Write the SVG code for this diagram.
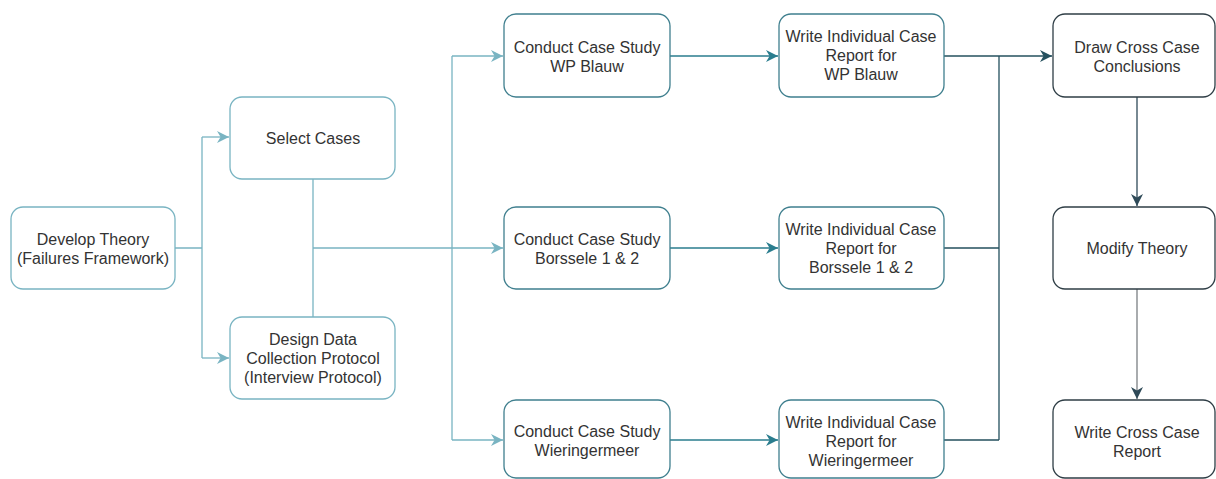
<svg xmlns="http://www.w3.org/2000/svg" width="1216" height="479" viewBox="0 0 1216 479">
<style>
.n{fill:#fff;stroke-width:1.3}
.l{stroke:#79b4c2}
.m{stroke:#3f7f8e}
.d{stroke:#2f3e46}
text{font-family:"Liberation Sans",Arial,sans-serif;font-size:16px;fill:#333;text-anchor:middle}
.c{fill:none;stroke-width:1.3}
</style>
<defs>
<marker id="al" markerUnits="userSpaceOnUse" markerWidth="12" markerHeight="12" refX="10" refY="5" orient="auto" viewBox="0 0 10 10"><path d="M0,0 L10,5 L0,10 L3,5 z" fill="#79b4c2"/></marker>
<marker id="am" markerUnits="userSpaceOnUse" markerWidth="12" markerHeight="12" refX="10" refY="5" orient="auto" viewBox="0 0 10 10"><path d="M0,0 L10,5 L0,10 L3,5 z" fill="#2a7d8e"/></marker>
<marker id="ad" markerUnits="userSpaceOnUse" markerWidth="12" markerHeight="12" refX="10" refY="5" orient="auto" viewBox="0 0 10 10"><path d="M0,0 L10,5 L0,10 L3,5 z" fill="#24505e"/></marker>
<marker id="ag" markerUnits="userSpaceOnUse" markerWidth="12" markerHeight="12" refX="10" refY="5" orient="auto" viewBox="0 0 10 10"><path d="M0,0 L10,5 L0,10 L3,5 z" fill="#2f4a58"/></marker>
</defs>
<rect width="1216" height="479" fill="#fff"/>
<g id="connectors">
<path class="c l" d="M175,248 H202 M202,137 V358"/>
<path class="c l" d="M202,137 H229" marker-end="url(#al)"/>
<path class="c l" d="M202,358 H229" marker-end="url(#al)"/>
<path class="c l" d="M313,179 V317 M313,248 H452 M452,56 V440"/>
<path class="c l" d="M452,56 H503" marker-end="url(#al)"/>
<path class="c l" d="M452,248 H503" marker-end="url(#al)"/>
<path class="c l" d="M452,440 H503" marker-end="url(#al)"/>
<path class="c" stroke="#2a7d8e" d="M670,56 H778" marker-end="url(#am)"/>
<path class="c" stroke="#2a7d8e" d="M670,248 H778" marker-end="url(#am)"/>
<path class="c" stroke="#2a7d8e" d="M670,440 H778" marker-end="url(#am)"/>
<path class="c" stroke="#24505e" d="M944,248 H999 M944,440 H999 M999,56 V440"/>
<path class="c" stroke="#24505e" d="M944,56 H1052" marker-end="url(#ad)"/>
<path class="c" stroke="#2f4a58" d="M1137,97 V206" marker-end="url(#ag)"/>
<path class="c" stroke="#7a7f83" stroke-width="1.8" d="M1137,289 V399" marker-end="url(#ag)"/>
</g>
<g id="develop"><rect class="n l" x="11" y="207" width="164" height="82" rx="12"/><text x="93" y="245">Develop Theory</text><text x="93" y="264">(Failures Framework)</text></g>
<g id="select"><rect class="n l" x="230" y="97" width="165" height="82" rx="12"/><text x="313" y="144">Select Cases</text></g>
<g id="design"><rect class="n l" x="230" y="317" width="165" height="82" rx="12"/><text x="313" y="345">Design Data</text><text x="313" y="364">Collection Protocol</text><text x="313" y="383">(Interview Protocol)</text></g>
<g id="cs1"><rect class="n m" x="504" y="14" width="166" height="83" rx="12"/><text x="587" y="53">Conduct Case Study</text><text x="587" y="72">WP Blauw</text></g>
<g id="cs2"><rect class="n m" x="504" y="207" width="166" height="82" rx="12"/><text x="587" y="245">Conduct Case Study</text><text x="587" y="264">Borssele 1 &amp; 2</text></g>
<g id="cs3"><rect class="n m" x="504" y="400" width="166" height="78" rx="12"/><text x="587" y="437">Conduct Case Study</text><text x="587" y="456">Wieringermeer</text></g>
<g id="wr1"><rect class="n m" x="779" y="14" width="165" height="83" rx="12"/><text x="861" y="42">Write Individual Case</text><text x="861" y="61">Report for</text><text x="861" y="80">WP Blauw</text></g>
<g id="wr2"><rect class="n m" x="779" y="207" width="165" height="82" rx="12"/><text x="861" y="235">Write Individual Case</text><text x="861" y="254">Report for</text><text x="861" y="273">Borssele 1 &amp; 2</text></g>
<g id="wr3"><rect class="n m" x="779" y="400" width="165" height="78" rx="12"/><text x="861" y="428">Write Individual Case</text><text x="861" y="447">Report for</text><text x="861" y="466">Wieringermeer</text></g>
<g id="draw"><rect class="n d" x="1053" y="14" width="162" height="83" rx="12"/><text x="1137" y="53">Draw Cross Case</text><text x="1137" y="72">Conclusions</text></g>
<g id="modify"><rect class="n d" x="1053" y="207" width="162" height="82" rx="12"/><text x="1137" y="254">Modify Theory</text></g>
<g id="writecross"><rect class="n d" x="1053" y="400" width="162" height="78" rx="12"/><text x="1137" y="438">Write Cross Case</text><text x="1137" y="457">Report</text></g>
</svg>
